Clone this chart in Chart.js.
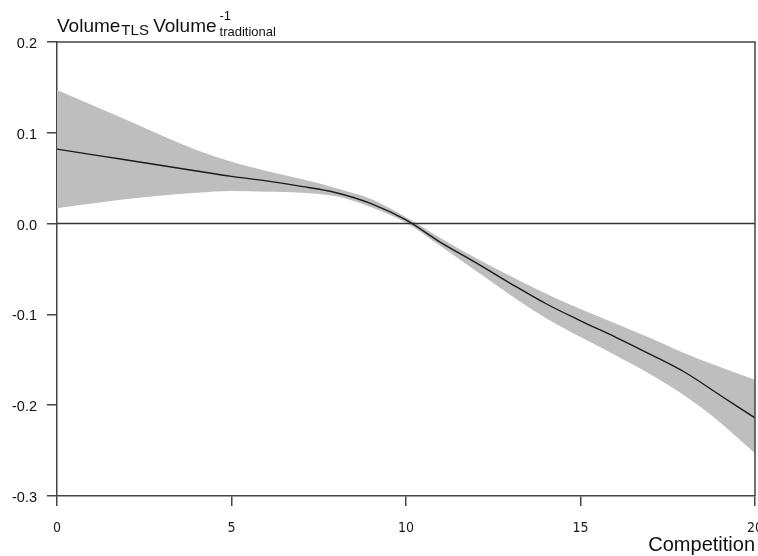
<!DOCTYPE html>
<html>
<head>
<meta charset="utf-8">
<script src="https://cdn.jsdelivr.net/npm/chart.js@4.4.1/dist/chart.umd.min.js"></script>
<style>
  html, body { margin: 0; padding: 0; background: #ffffff; }
  #wrap { width: 758px; height: 556px; position: relative; }
</style>
</head>
<body>
<div id="wrap"><canvas id="c" width="758" height="556"></canvas></div>
<script>
// ---- data ----
const competition = [0, 1, 2, 3, 4, 5, 6, 7, 8, 9, 10, 11, 12, 13, 14, 15, 16, 17, 18, 19, 20];
const fitValues = [0.082, 0.076, 0.070, 0.064, 0.058, 0.052, 0.047, 0.041, 0.034, 0.022, 0.004,
                   -0.021, -0.043, -0.066, -0.088, -0.107, -0.125, -0.144, -0.164, -0.189, -0.214];
const upperBand = [0.147, 0.1305, 0.114, 0.097, 0.081, 0.068, 0.058, 0.049, 0.039, 0.027, 0.007,
                   -0.016, -0.038, -0.058, -0.077, -0.094, -0.110, -0.126, -0.143, -0.158, -0.172];
const lowerBand = [0.017, 0.022, 0.027, 0.031, 0.034, 0.036, 0.035, 0.034, 0.030, 0.018, 0.001,
                   -0.025, -0.052, -0.079, -0.104, -0.125, -0.145, -0.166, -0.190, -0.219, -0.253];
const zeroLineX = [0, 20];
const zeroLineY = [0, 0];
const xTickValues = [0, 5, 10, 15, 20];
const xTickLabels = ["0", "5", "10", "15", "20"];
const yTickValues = [0.2, 0.1, 0.0, -0.1, -0.2, -0.3];
const yTickLabels = ["0.2", "0.1", "0.0", "-0.1", "-0.2", "-0.3"];
const xAxisTitle = "Competition";

function pts(xs, ys) { return xs.map((x, i) => ({ x: x, y: ys[i] })); }
function labelFor(values, labels, v) {
  for (let i = 0; i < values.length; i++) if (Math.abs(values[i] - v) < 1e-9) return labels[i];
  return "";
}

const AXIS = "#444444";

const decorations = {
  id: "decorations",
  afterDraw(chart) {
    const ctx = chart.ctx;
    const a = chart.chartArea;
    ctx.save();
    // top and right frame
    ctx.strokeStyle = AXIS;
    ctx.lineWidth = 1.5;
    ctx.beginPath();
    ctx.moveTo(a.left, a.top);
    ctx.lineTo(a.right, a.top);
    ctx.lineTo(a.right, a.bottom);
    ctx.stroke();

    // y axis title with sub/superscripts
    ctx.fillStyle = "#111111";
    ctx.textBaseline = "alphabetic";
    ctx.textAlign = "left";
    let x = a.left;
    ctx.font = "19px 'Liberation Sans', Arial, sans-serif";
    ctx.fillText("Volume", x, 32);
    x += ctx.measureText("Volume").width + 1;
    ctx.font = "15px 'Liberation Sans', Arial, sans-serif";
    ctx.fillText("TLS", x, 35);
    x += ctx.measureText("TLS").width;
    ctx.font = "19px 'Liberation Sans', Arial, sans-serif";
    x += ctx.measureText(" ").width - 1;
    ctx.fillText("Volume", x, 32);
    x += ctx.measureText("Volume").width + 3;
    ctx.font = "13px 'Liberation Sans', Arial, sans-serif";
    ctx.fillText("-1", x, 20);
    ctx.fillText("traditional", x, 36);

    // x axis title
    ctx.font = "20px 'Liberation Sans', Arial, sans-serif";
    ctx.textAlign = "right";
    ctx.fillText(xAxisTitle, a.right, 551);
    ctx.restore();
  }
};

new Chart(document.getElementById("c"), {
  type: "line",
  data: {
    datasets: [
      {
        label: "upper",
        data: pts(competition, upperBand),
        borderWidth: 0,
        borderColor: "rgba(0,0,0,0)",
        backgroundColor: "#bebebe",
        fill: "+1",
        pointRadius: 0,
        cubicInterpolationMode: "monotone",
        order: 3
      },
      {
        label: "lower",
        data: pts(competition, lowerBand),
        borderWidth: 0,
        borderColor: "rgba(0,0,0,0)",
        backgroundColor: "#bebebe",
        fill: false,
        pointRadius: 0,
        cubicInterpolationMode: "monotone",
        order: 3
      },
      {
        label: "zero",
        data: pts(zeroLineX, zeroLineY),
        borderWidth: 1.5,
        borderColor: "#333333",
        fill: false,
        pointRadius: 0,
        order: 2
      },
      {
        label: "fit",
        data: pts(competition, fitValues),
        borderWidth: 1.4,
        borderColor: "#1a1a1a",
        fill: false,
        pointRadius: 0,
        cubicInterpolationMode: "monotone",
        order: 1
      }
    ]
  },
  options: {
    responsive: false,
    animation: false,
    events: [],
    layout: { padding: { left: 0, right: 3, top: 42, bottom: 0 } },
    plugins: {
      legend: { display: false },
      tooltip: { enabled: false },
      title: { display: false }
    },
    scales: {
      x: {
        type: "linear",
        min: 0,
        max: 20,
        afterBuildTicks: s => { s.ticks = xTickValues.map(v => ({ value: v })); },
        afterFit: s => { s.height = 60; s.paddingLeft = 0; s.paddingRight = 0; },
        border: { display: true, color: AXIS, width: 1.5 },
        grid: { display: true, drawOnChartArea: false, drawTicks: true, tickLength: 10, color: AXIS, lineWidth: 1.5 },
        ticks: {
          autoSkip: false,
          maxRotation: 0,
          padding: 14,
          color: "#1a1a1a",
          font: { family: "'Liberation Sans Narrow', 'Arial Narrow', 'DejaVu Sans Condensed', sans-serif", size: 14 },
          callback: v => labelFor(xTickValues, xTickLabels, v)
        }
      },
      y: {
        type: "linear",
        min: -0.3,
        max: 0.2,
        afterBuildTicks: s => { s.ticks = yTickValues.map(v => ({ value: v })); },
        afterFit: s => { s.width = 57; s.paddingTop = 0; s.paddingBottom = 0; },
        border: { display: true, color: AXIS, width: 1.5 },
        grid: { display: true, drawOnChartArea: false, drawTicks: true, tickLength: 10, color: AXIS, lineWidth: 1.5 },
        ticks: {
          autoSkip: false,
          padding: 10,
          labelOffset: 2,
          color: "#111111",
          font: { family: "'Liberation Sans', Arial, sans-serif", size: 14.5 },
          callback: v => labelFor(yTickValues, yTickLabels, v)
        }
      }
    }
  },
  plugins: [decorations]
});
</script>
</body>
</html>
